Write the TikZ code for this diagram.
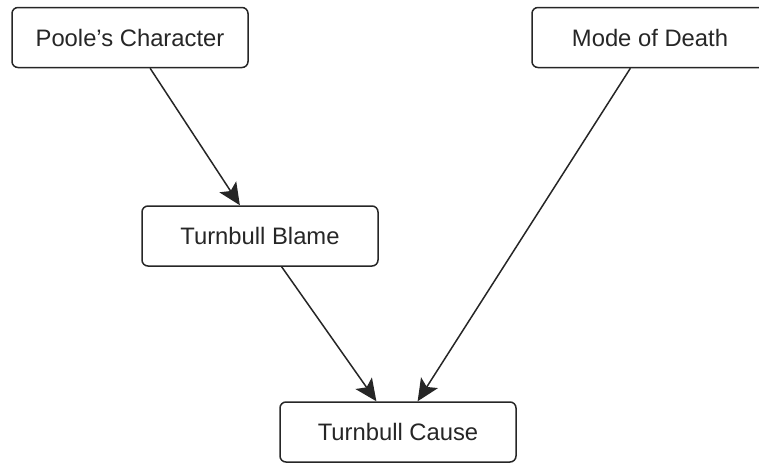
\documentclass[tikz,border=0pt]{standalone}
\usepackage{fontspec}
\setmainfont{Liberation Sans}
\usetikzlibrary{arrows.meta}
\definecolor{linec}{HTML}{262626}
\definecolor{textc}{HTML}{262626}
\begin{document}
\begin{tikzpicture}[x=1pt,y=-1pt,
  box/.style={draw=linec, line width=1.5pt, rounded corners=6pt, rectangle,
    minimum width=236pt, minimum height=60pt, inner sep=0pt,
    font=\fontsize{23.8}{27}\selectfont, text=textc},
  conn/.style={draw=linec, line width=1.5pt,
    -{Stealth[length=22pt, width=20pt, inset=5pt]}}]
\useasboundingbox (0,0) rectangle (759,463);
\clip (0,0) rectangle (759,463);
\node[box] (poole) at (130,37.5) {Poole{\char"0027}s Character};
\node[box] (mode)  at (650,37.5) {Mode of Death};
\node[box] (blame) at (260,236) {Turnbull Blame};
\node[box] (cause) at (398,432) {Turnbull Cause};
\draw[conn] (poole) -- (blame);
\draw[conn] (blame) -- (cause);
\draw[conn] (mode) -- (cause);
\end{tikzpicture}
\end{document}
